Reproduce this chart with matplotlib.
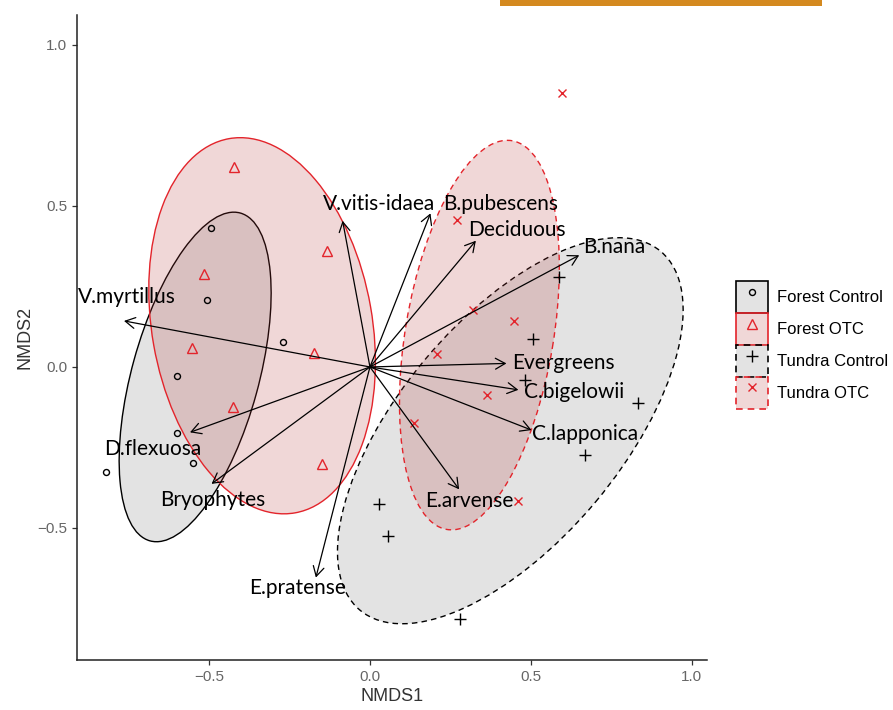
import numpy as np
import matplotlib
matplotlib.use('Agg')
import matplotlib.pyplot as plt
from matplotlib.patches import Ellipse, FancyArrowPatch, Patch, Rectangle
from matplotlib.lines import Line2D
from matplotlib.legend_handler import HandlerTuple

# site scores (NMDS1, NMDS2) per group
forest_control_x = [-0.494, -0.506, -0.270, -0.599, -0.599, -0.550, -0.820]
forest_control_y = [0.432, 0.208, 0.078, -0.028, -0.205, -0.298, -0.326]
forest_otc_x = [-0.422, -0.516, -0.553, -0.134, -0.174, -0.425, -0.149]
forest_otc_y = [0.621, 0.289, 0.059, 0.360, 0.043, -0.124, -0.301]
tundra_control_x = [0.587, 0.506, 0.481, 0.832, 0.668, 0.028, 0.056, 0.280]
tundra_control_y = [0.280, 0.087, -0.040, -0.112, -0.273, -0.425, -0.525, -0.783]
tundra_otc_x = [0.596, 0.270, 0.320, 0.447, 0.208, 0.363, 0.137, 0.460]
tundra_otc_y = [0.851, 0.457, 0.177, 0.143, 0.040, -0.087, -0.174, -0.416]

groups = ['Forest Control', 'Forest OTC', 'Tundra Control', 'Tundra OTC']

# ellipse centre, semi axes, angle (deg)
ell_cx = [-0.543, -0.335, 0.436, 0.340]
ell_cy = [-0.031, 0.128, -0.198, 0.099]
ell_a = [0.528, 0.590, 0.727, 0.612]
ell_b = [0.197, 0.342, 0.345, 0.230]
ell_ang = [74.6, 100.0, 50.0, 80.5]

# species / functional group vectors
species = ['V.myrtillus', 'D.flexuosa', 'Bryophytes', 'V.vitis-idaea', 'B.pubescens',
           'Deciduous', 'B.nana', 'Evergreens', 'C.bigelowii', 'C.lapponica',
           'E.arvense', 'E.pratense']
vec_x = [-0.764, -0.559, -0.492, -0.085, 0.188, 0.329, 0.650, 0.424, 0.461, 0.502, 0.277, -0.168]
vec_y = [0.143, -0.203, -0.363, 0.454, 0.477, 0.392, 0.347, 0.011, -0.071, -0.196, -0.380, -0.654]
lab_x = [-0.907, -0.826, -0.652, -0.146, 0.227, 0.304, 0.661, 0.441, 0.478, 0.503, 0.171, -0.376]
lab_y = [0.217, -0.255, -0.413, 0.506, 0.506, 0.425, 0.373, 0.012, -0.078, -0.208, -0.416, -0.686]

red = '#E3242B'
pink_fill = (0.706, 0.216, 0.216, 0.2)
grey_fill = (0.5, 0.5, 0.5, 0.22)

styles = {
    'Forest Control': dict(marker='o', color='black', ms=4.3, face=grey_fill, edge='black', ls='-'),
    'Forest OTC': dict(marker='^', color=red, ms=6.5, face=pink_fill, edge=red, ls='-'),
    'Tundra Control': dict(marker='+', color='black', ms=8.5, face=grey_fill, edge='black', ls=(0, (4, 3))),
    'Tundra OTC': dict(marker='x', color=red, ms=5.5, face=pink_fill, edge=red, ls=(0, (4, 3))),
}
points = {
    'Forest Control': (forest_control_x, forest_control_y),
    'Forest OTC': (forest_otc_x, forest_otc_y),
    'Tundra Control': (tundra_control_x, tundra_control_y),
    'Tundra OTC': (tundra_otc_x, tundra_otc_y),
}

fig = plt.figure(figsize=(8.93, 7.10), dpi=100)
ax = fig.add_axes([77 / 893, 1 - 660 / 710, 630 / 893, 645 / 710])

for i, g in enumerate(groups):
    st = styles[g]
    ax.add_patch(Ellipse((ell_cx[i], ell_cy[i]), 2 * ell_a[i], 2 * ell_b[i], angle=ell_ang[i],
                         facecolor=st['face'], edgecolor=st['edge'], linestyle=st['ls'],
                         linewidth=1.0, zorder=1))

for g in groups:
    st = styles[g]
    xs, ys = points[g]
    ax.plot(xs, ys, linestyle='none', marker=st['marker'], markersize=st['ms'],
            markerfacecolor='none', markeredgecolor=st['color'], markeredgewidth=1.0, zorder=3)

for i, name in enumerate(species):
    ax.add_patch(FancyArrowPatch((0, 0), (vec_x[i], vec_y[i]),
                                 arrowstyle='->,head_length=0.5,head_width=0.28',
                                 mutation_scale=14, lw=0.9, color='black',
                                 shrinkA=0, shrinkB=0, zorder=4))
    ax.text(lab_x[i], lab_y[i], name, ha='left', va='center', fontsize=15,
            family='Lato', color='black', zorder=5)

ax.set_xlim(-0.91, 1.047)
ax.set_ylim(-0.91, 1.093)
ax.set_xticks([-0.5, 0.0, 0.5, 1.0])
ax.set_yticks([-0.5, 0.0, 0.5, 1.0])
ax.set_xticklabels(['\u22120.5', '0.0', '0.5', '1.0'])
ax.set_yticklabels(['\u22120.5', '0.0', '0.5', '1.0'])
ax.tick_params(axis='both', colors='#333333', labelcolor='#666666', labelsize=11,
               length=3.5, width=0.9, direction='out')
for s in ['top', 'right']:
    ax.spines[s].set_visible(False)
for s in ['left', 'bottom']:
    ax.spines[s].set_linewidth(1.1)
    ax.spines[s].set_color('#222222')
ax.set_xlabel('NMDS1', fontsize=13, color='#333333', family='Liberation Sans', labelpad=3)
ax.set_ylabel('NMDS2', fontsize=13, color='#333333', family='Liberation Sans', labelpad=3)
for lab in ax.get_xticklabels() + ax.get_yticklabels():
    lab.set_family('Liberation Sans')

handles = []
for g in groups:
    st = styles[g]
    box = Patch(facecolor=st['face'], edgecolor=st['edge'], linestyle=st['ls'], linewidth=1.2)
    mk = Line2D([], [], linestyle='none', marker=st['marker'], markersize=st['ms'],
                markerfacecolor='none', markeredgecolor=st['color'], markeredgewidth=1.0)
    handles.append((box, mk))

fig.legend(handles, groups, handler_map={tuple: HandlerTuple(ndivide=1, pad=0)},
           loc='center left', bbox_to_anchor=(736 / 893, 1 - 345 / 710),
           frameon=False, prop={'family': 'Liberation Sans', 'size': 12},
           handlelength=1.92, handleheight=2.57, labelspacing=0.0,
           handletextpad=0.55, borderpad=0, borderaxespad=0)

# orange strip at the top of the screenshot
fig.patches.append(Rectangle((500 / 893, 1 - 6 / 710), 322 / 893, 6 / 710,
                             transform=fig.transFigure, facecolor='#D4891F',
                             edgecolor='none'))

fig.savefig('out.png', dpi=100)
